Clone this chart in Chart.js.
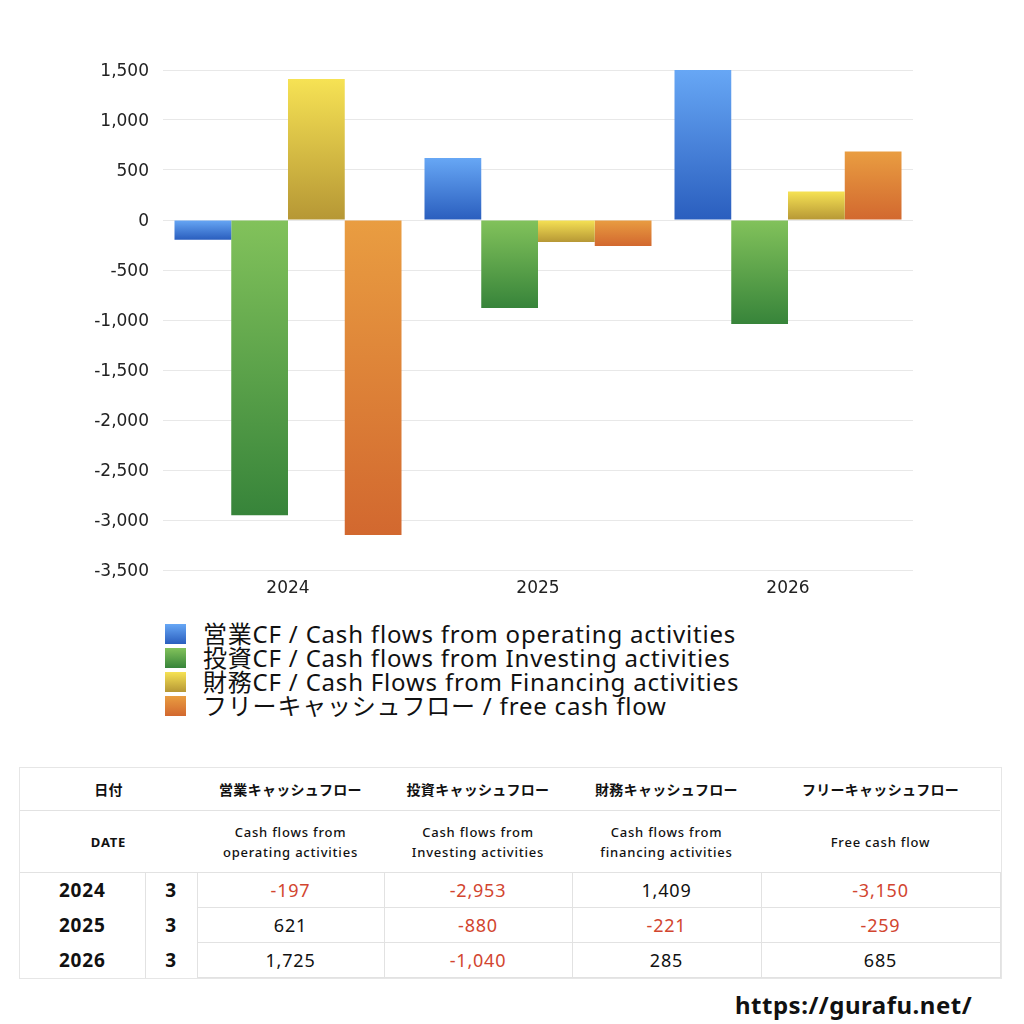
<!DOCTYPE html>
<html lang="ja">
<head>
<meta charset="utf-8">
<script src="https://cdn.jsdelivr.net/npm/chart.js@4/dist/chart.umd.min.js"></script>
<style>
  html, body { margin: 0; padding: 0; background: #fff; }
  body { width: 1024px; height: 1024px; position: relative; overflow: hidden;
         font-family: "Noto Sans", "Noto Sans CJK JP", sans-serif; color: #111; letter-spacing: 0.05em; }
  #chart-wrap { position: absolute; left: 0; top: 0; width: 930px; height: 610px; letter-spacing: 0; }
  #legend { position: absolute; left: 165px; top: 622px; }
  .lg-item { display: flex; align-items: center; height: 24px; font-size: 24px; line-height: 24px; white-space: nowrap; }
  .lg-box { width: 21px; height: 20px; margin-right: 17px; flex: none; }
  table { position: absolute; left: 20px; top: 768px; width: 980px; border-collapse: collapse; table-layout: fixed; }
  td { text-align: center; padding: 0; border: 0; }
  .h1 td { height: 42px; font-size: 14px; font-weight: 700; letter-spacing: 0.02em; }
  .h2 td { height: 61px; font-size: 13px; font-weight: 500; line-height: 20px; }
  .h1 td, .h2 td { border-bottom: 1px solid #e2e2e2; }
  .row td { height: 34px; font-size: 18px; }
  .row td.yr { font-size: 19px; font-weight: 700; }
  .row td.mo { font-size: 19px; font-weight: 700; border-right: 1px solid #e2e2e2; border-left: 1px solid #e2e2e2; }
  .row td.val { border-bottom: 1px solid #e2e2e2; border-right: 1px solid #e2e2e2; }
  .row td.neg { color: #d2452f; }
  .outer { outline: 1px solid #e6e6e6; }
  #site { position: absolute; left: 735px; top: 988px; font-size: 24px; font-weight: 700; letter-spacing: 0.5px; }
</style>
</head>
<body>
<div id="chart-wrap"><canvas id="cfChart"></canvas></div>
<div id="legend"></div>
<table class="outer" id="cf-table"></table>
<div id="site">https://gurafu.net/</div>

<script>
// ---- data ----
const years = ['2024', '2025', '2026'];
const months = ['3', '3', '3'];
const operatingCF = [-197, 621, 1725];
const investingCF = [-2953, -880, -1040];
const financingCF = [1409, -221, 285];
const freeCF = [-3150, -259, 685];

const seriesLabels = [
  '営業CF / Cash flows from operating activities',
  '投資CF / Cash flows from Investing activities',
  '財務CF / Cash Flows from Financing activities',
  'フリーキャッシュフロー / free cash flow'
];
const headJa = ['営業キャッシュフロー', '投資キャッシュフロー', '財務キャッシュフロー', 'フリーキャッシュフロー'];
const headEn = [
  'Cash flows from<br>operating activities',
  'Cash flows from<br>Investing activities',
  'Cash flows from<br>financing activities',
  'Free cash flow'
];

const yMin = -3500, yMax = 1500, yStep = 500;

// gradient ends per series (top, bottom)
const colors = [
  ['#67a7f5', '#2a5ebe'],
  ['#82c25b', '#37843a'],
  ['#f6e254', '#b69735'],
  ['#e99d41', '#d2682f']
];

const seriesValues = [operatingCF, investingCF, financingCF, freeCF];
const AXIS_FONT = '"DejaVu Sans", "Noto Sans", sans-serif';

function barFill(top, bottom) {
  return ctx => {
    const chart = ctx.chart;
    const area = chart.chartArea;
    if (!area || ctx.type !== 'data') return bottom;
    const ys = chart.scales.y;
    const v = ctx.raw;
    let a = Math.max(ys.getPixelForValue(Math.max(v, 0)), area.top);
    let b = Math.min(ys.getPixelForValue(Math.min(v, 0)), area.bottom);
    if (b - a < 1) b = a + 1;
    const g = chart.ctx.createLinearGradient(0, a, 0, b);
    g.addColorStop(0, top);
    g.addColorStop(1, bottom);
    return g;
  };
}

new Chart(document.getElementById('cfChart'), {
  type: 'bar',
  data: {
    labels: years,
    datasets: seriesValues.map((vals, i) => ({
      label: seriesLabels[i],
      data: vals,
      backgroundColor: barFill(colors[i][0], colors[i][1]),
      borderWidth: 0,
      categoryPercentage: 0.908,
      barPercentage: 1.0
    }))
  },
  options: {
    responsive: true,
    maintainAspectRatio: false,
    animation: false,
    layout: { padding: { top: 70, right: 17, bottom: 0, left: 0 } },
    plugins: { legend: { display: false }, tooltip: { enabled: false } },
    scales: {
      x: {
        grid: { display: false },
        border: { display: false },
        ticks: { color: '#222', padding: 0, font: { size: 17, family: AXIS_FONT } },
        afterFit: s => { s.height = 40; }
      },
      y: {
        min: yMin, max: yMax,
        grid: { color: '#e8e8e8', drawTicks: false },
        border: { display: false },
        ticks: {
          stepSize: yStep, color: '#222', padding: 14, labelOffset: 2,
          font: { size: 17, family: AXIS_FONT },
          callback: v => v.toLocaleString('en-US')
        },
        afterFit: s => { s.width = 163; }
      }
    }
  }
});

// ---- legend ----
document.getElementById('legend').innerHTML = seriesLabels.map((l, i) => `
  <div class="lg-item"><span class="lg-box" style="background:linear-gradient(${colors[i][0]}, ${colors[i][1]})"></span>${l}</div>`).join('');

// ---- table ----
const fmt = v => v.toLocaleString('en-US');
let html = `<colgroup><col style="width:125px"><col style="width:52px"><col style="width:187px"><col style="width:188px"><col style="width:189px"><col style="width:239px"></colgroup>`;
html += `<tr class="h1"><td colspan="2">日付</td>${headJa.map(h => `<td>${h}</td>`).join('')}</tr>`;
html += `<tr class="h2"><td colspan="2" style="font-weight:700">DATE</td>${headEn.map(h => `<td>${h}</td>`).join('')}</tr>`;
years.forEach((y, r) => {
  html += `<tr class="row"><td class="yr">${y}</td><td class="mo">${months[r]}</td>` +
    seriesValues.map(s => `<td class="val${s[r] < 0 ? ' neg' : ''}">${fmt(s[r])}</td>`).join('') + `</tr>`;
});
document.getElementById('cf-table').innerHTML = html;
</script>
</body>
</html>
